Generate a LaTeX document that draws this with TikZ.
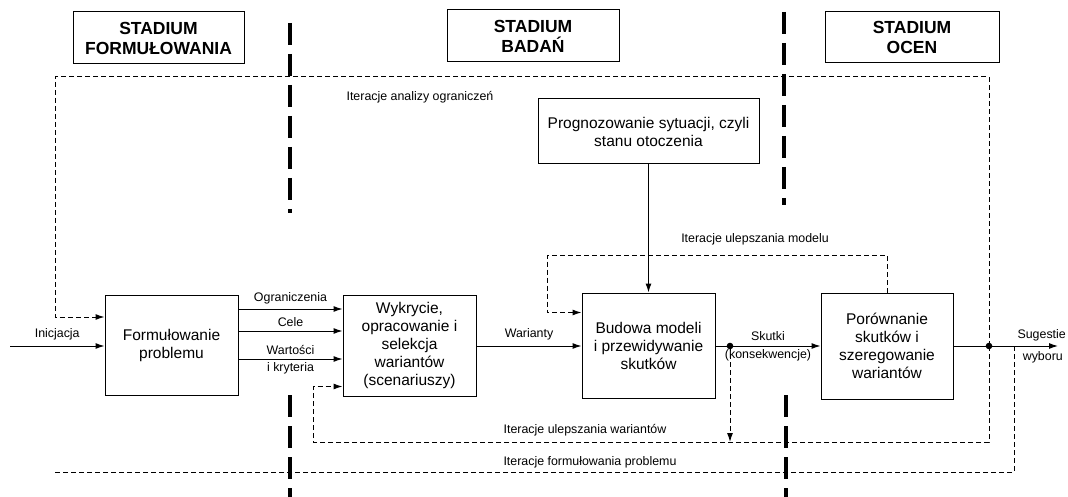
\documentclass[tikz,border=0pt]{standalone}
\usepackage{fontspec}
\setmainfont{Liberation Sans}
\usetikzlibrary{arrows.meta}

\begin{document}
\begin{tikzpicture}[x=1pt, y=-1pt,
    box/.style={draw, line width=1pt, align=center, inner sep=0pt,
      font=\fontsize{15.5}{18}\selectfont},
    stagebox/.style={draw, line width=1pt, align=center, inner sep=0pt,
      font=\fontsize{17.5}{20}\selectfont\bfseries},
    lbl/.style={font=\fontsize{12.4}{14}\selectfont, inner sep=1pt},
    arr/.style={line width=1pt, -{Latex[length=9pt,width=6pt]}},
    iter/.style={line width=0.9pt, dash pattern=on 5pt off 3pt},
    phase/.style={line width=3.5pt, dash pattern=on 22pt off 9pt}]
    \useasboundingbox (0,0) rectangle (1068,497);

    \node[stagebox, minimum width=171pt, minimum height=52pt] (stform) at (158.5,38) {STADIUM\\FORMUŁOWANIA};
    \node[stagebox, minimum width=172pt, minimum height=52pt] (stbad) at (533,36) {STADIUM\\BADAŃ};
    \node[stagebox, minimum width=174pt, minimum height=51pt] (stocen) at (912,37.5) {STADIUM\\OCEN};

    \node[box, minimum width=133pt, minimum height=100pt] (form) at (171.5,345) {Formułowanie\\problemu};
    \node[box, minimum width=133pt, minimum height=101pt] (wyk) at (409.5,345.5) {Wykrycie,\\opracowanie i\\selekcja\\wariantów\\(scenariuszy)};
    \node[box, minimum width=133pt, minimum height=105pt] (bud) at (648.5,345.5) {Budowa modeli\\i przewidywanie\\skutków};
    \node[box, minimum width=132pt, minimum height=106pt] (por) at (887,346) {Porównanie\\skutków i\\szeregowanie\\wariantów};
    \node[box, minimum width=221pt, minimum height=65pt] (prog) at (648.5,131.5) {Prognozowanie sytuacji, czyli\\stanu otoczenia};

    % linie podzialu na stadia
    \draw[phase] (290,23) -- (290,213);
    \draw[phase] (290,395) -- (290,497);
    \draw[phase] (784,12) -- (784,205);
    \draw[phase] (786,395) -- (786,497);

    \coordinate (start) at (10,346);
    \coordinate (skdot) at (730,346);
    \coordinate (outdot) at (989,346);
    \coordinate (fpbranch) at (1014,346);
    \coordinate (outend) at (1058,346);

    \draw[arr] (start) -- (start -| form.west) node[lbl, midway, above=4pt] {Inicjacja};
    \draw[arr] ([yshift=36pt]form.east) -- ([yshift=36pt]form.east -| wyk.west) node[lbl, midway, above=3pt] {Ograniczenia};
    \draw[arr] ([yshift=14pt]form.east) -- ([yshift=14pt]form.east -| wyk.west) node[lbl, midway, above=3pt] {Cele};
    \draw[arr] ([yshift=-14pt]form.east) -- ([yshift=-14pt]form.east -| wyk.west)
        node[lbl, midway, above=3pt] {Wartości} node[lbl, midway, below=2pt] {i kryteria};
    \draw[arr] (wyk.east |- start) -- (bud.west |- start) node[lbl, midway, above=4pt] {Warianty};
    \draw[arr] (bud.east |- start) -- (por.west |- start)
        node[lbl, midway, above=4pt] {Skutki} node[lbl, midway, below=2pt] {(konsekwencje)};
    \draw[arr] (por.east |- start) -- (outend);
    \draw[arr] (prog.south) -- (bud.north);
    \fill (skdot) circle (3.3pt);
    \fill (outdot) circle (3.3pt);
    \node[lbl, anchor=south east] (sug) at (1067,342) {Sugestie};
    \node[lbl, anchor=north east] (wyb) at (1064,350) {wyboru};

    % petle iteracji
    \coordinate (topline) at (55,77);
    \coordinate (botloop) at (313,442);
    \coordinate (modloop) at (547,255);
    \coordinate (fpend) at (55,472);
    \draw[iter, arr] (outdot) |- (topline) |- ([yshift=28pt]form.west);
    \draw[iter, arr] (outdot) |- (botloop) |- ([yshift=-41pt]wyk.west);
    \draw[iter, arr] (skdot) -- (skdot |- botloop);
    \draw[iter, arr] (por.north) |- (modloop) |- ([yshift=33pt]bud.west);
    \draw[iter] (fpbranch) |- (fpend);

    \node[lbl] (ian) at (420,97) {Iteracje analizy ograniczeń};
    \node[lbl] (ium) at (755,239) {Iteracje ulepszania modelu};
    \node[lbl] (iuw) at (585,430) {Iteracje ulepszania wariantów};
    \node[lbl] (ifp) at (590,462) {Iteracje formułowania problemu};
\end{tikzpicture}
\end{document}
